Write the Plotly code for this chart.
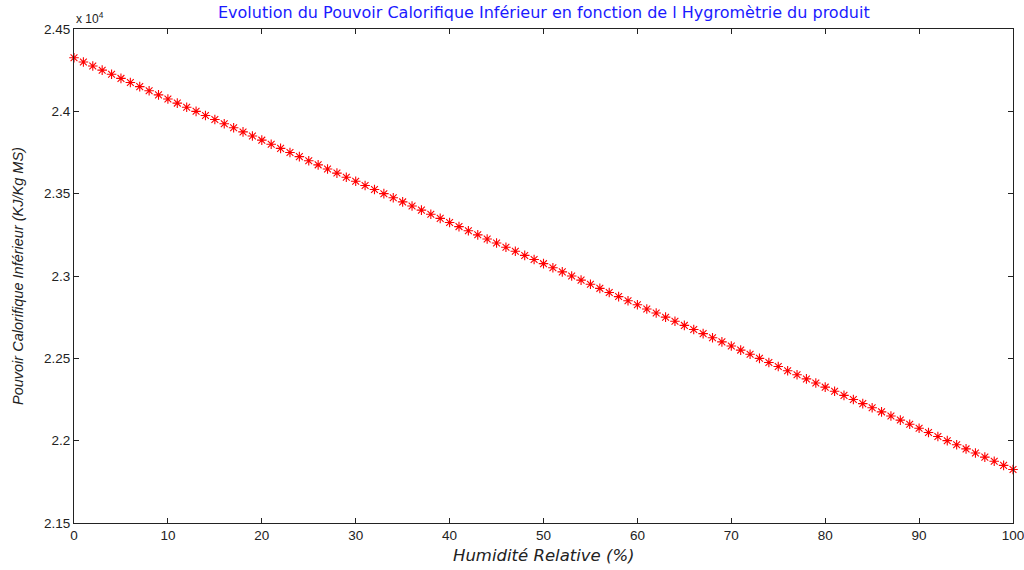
import plotly.graph_objects as go

humidite = list(range(0, 101))
pci = [24325, 24300, 24275, 24250, 24225, 24200, 24175, 24150, 24125, 24100,
       24075, 24050, 24025, 24000, 23975, 23950, 23925, 23900, 23875, 23850,
       23825, 23800, 23775, 23750, 23725, 23700, 23675, 23650, 23625, 23600,
       23575, 23550, 23525, 23500, 23475, 23450, 23425, 23400, 23375, 23350,
       23325, 23300, 23275, 23250, 23225, 23200, 23175, 23150, 23125, 23100,
       23075, 23050, 23025, 23000, 22975, 22950, 22925, 22900, 22875, 22850,
       22825, 22800, 22775, 22750, 22725, 22700, 22675, 22650, 22625, 22600,
       22575, 22550, 22525, 22500, 22475, 22450, 22425, 22400, 22375, 22350,
       22325, 22300, 22275, 22250, 22225, 22200, 22175, 22150, 22125, 22100,
       22075, 22050, 22025, 22000, 21975, 21950, 21925, 21900, 21875, 21850,
       21825]

x_ticks = [0, 10, 20, 30, 40, 50, 60, 70, 80, 90, 100]
y_ticks = [21500, 22000, 22500, 23000, 23500, 24000, 24500]
y_ticktext = ["2.15", "2.2", "2.25", "2.3", "2.35", "2.4", "2.45"]

font = "Liberation Sans, Arial, sans-serif"
wide = "DejaVu Sans, sans-serif"

fig = go.Figure()
fig.add_trace(go.Scatter(
    x=humidite, y=pci, mode="markers",
    marker=dict(symbol="asterisk-open", size=8, color="red",
                line=dict(color="red", width=1.1)),
    showlegend=False, cliponaxis=False,
))

axis_common = dict(
    showline=True, linecolor="#222", linewidth=1, mirror="allticks",
    ticks="inside", ticklen=5, tickcolor="#222", showgrid=False, zeroline=False,
    tickfont=dict(family=font, size=13.5, color="#222"), automargin=False,
    ticklabeloverflow="allow",
)

fig.update_layout(
    width=1024, height=570,
    margin=dict(l=74, r=11, t=29, b=47),
    paper_bgcolor="white", plot_bgcolor="white",
    xaxis=dict(range=[0, 100], tickvals=x_ticks, **axis_common),
    yaxis=dict(range=[21500, 24500], tickvals=y_ticks, ticktext=y_ticktext, **axis_common),
)

# Title
fig.add_annotation(text="Evolution du Pouvoir Calorifique Inférieur en fonction de l Hygromètrie du produit",
                   xref="paper", yref="paper", x=0.5, y=1.0, yshift=5,
                   xanchor="center", yanchor="bottom", showarrow=False,
                   font=dict(family=wide, size=16, color="#1a1aff"))
# X title
fig.add_annotation(text="Humidité Relative (%)", xref="paper", yref="paper",
                   x=0.5, y=0, yshift=-21, xanchor="center", yanchor="top", showarrow=False,
                   font=dict(family=wide, size=16.5, color="#222", style="italic"))
# Y title
fig.add_annotation(text="Pouvoir Calorifique Inférieur (KJ/Kg MS)", xref="paper", yref="paper",
                   x=0, xshift=-56, y=0.5, xanchor="center", yanchor="middle", textangle=-90,
                   showarrow=False,
                   font=dict(family=font, size=14.5, color="#222", style="italic"))
# Exponent
fig.add_annotation(text="x 10<sup>4</sup>", xref="paper", yref="paper",
                   x=0.0, y=1.0, xanchor="left", yanchor="bottom", yshift=1,
                   showarrow=False, font=dict(family=font, size=12, color="#222"))

fig.write_html("out.html", config={"displayModeBar": False},
               post_script="document.body.style.margin='0';")
